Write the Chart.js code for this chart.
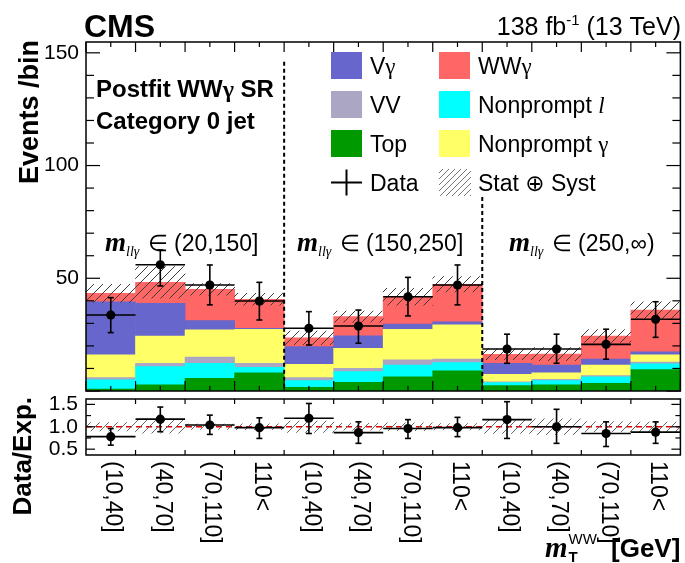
<!DOCTYPE html>
<html>
<head>
<meta charset="utf-8">
<script src="https://cdn.jsdelivr.net/npm/chart.js@4/dist/chart.umd.min.js"></script>
<style>
  html, body { margin: 0; padding: 0; background: #fff; }
  #wrap { position: relative; width: 685px; height: 563px; overflow: hidden; }
  #wrap canvas { position: absolute; left: 0; top: 0; }
</style>
</head>
<body>
<div id="wrap">
  <canvas id="main" width="685" height="563"></canvas>
  <canvas id="ratio" width="685" height="563"></canvas>
</div>
<script>
// ---- bins: three m_llγ regions, four mT(WW) bins each ----
const binLabels = ['(10,40]', '(40,70]', '(70,110]', '110<',
                   '(10,40]', '(40,70]', '(70,110]', '110<',
                   '(10,40]', '(40,70]', '(70,110]', '110<'];
const regionLabels = ['(20,150]', '(150,250]', '(250,\u221E)'];

// ---- postfit yields per bin, stacked bottom to top ----
const topQuark        = [0.8, 2.7, 5.6, 8.1, 1.6, 3.9, 6.3, 9.0, 2.4, 2.7, 3.4, 9.5];
const nonpromptLepton = [4.1, 8.1, 6.7, 2.4, 3.0, 4.7, 5.2, 3.6, 1.3, 1.9, 2.9, 2.5];
const dibosonVV       = [1.0, 1.5, 2.7, 1.8, 1.3, 1.5, 2.3, 1.6, 0.4, 0.6, 0.5, 0.8];
const nonpromptPhoton = [10.1, 12.1, 12.1, 15.1, 5.9, 8.8, 13.6, 15.1, 3.3, 2.9, 4.7, 3.2];
const vGamma          = [23.6, 14.5, 4.1, 0.4, 7.9, 5.6, 2.3, 1.4, 4.9, 3.4, 2.7, 1.4];
const wwGamma         = [3.7, 9.3, 13.9, 12.9, 3.9, 8.5, 12.1, 16.6, 4.0, 4.9, 10.2, 18.5];
// stat ⊕ syst half-width on the total expectation
const totalUnc        = [4.0, 7.0, 2.6, 2.6, 3.0, 2.5, 3.7, 3.4, 2.4, 2.9, 2.8, 3.7];

// ---- observed data with asymmetric error bars ----
const dataCounts = [33.7, 56.0, 47.0, 39.9, 27.8, 28.8, 41.8, 47.0, 18.6, 18.6, 20.7, 31.8];
const dataUp     = [41.4, 62.6, 55.9, 48.2, 35.2, 35.9, 50.4, 55.9, 25.2, 25.2, 27.4, 39.6];
const dataDown   = [25.9, 46.6, 38.2, 31.5, 20.4, 21.2, 33.3, 38.2, 12.3, 12.3, 14.1, 23.8];

// ---- data / expectation ----
const ratioVals = [0.78, 1.17, 1.04, 0.98, 1.19, 0.87, 0.96, 0.98, 1.16, 1.00, 0.85, 0.88];
const ratioUp   = [0.96, 1.44, 1.26, 1.20, 1.52, 1.11, 1.16, 1.21, 1.56, 1.39, 1.11, 1.11];
const ratioDown = [0.59, 0.89, 0.83, 0.74, 0.85, 0.63, 0.74, 0.78, 0.74, 0.63, 0.56, 0.63];

const mainYTicks  = [50, 100, 150];
const ratioYTicks = [0.5, 1.0, 1.5];

// ---- styling ----
const SANS  = '"Liberation Sans", Arial, Helvetica, sans-serif';
const SERIF = '"Liberation Serif", "Times New Roman", serif';
const processes = [
  { label: 'Top',          values: topQuark,        color: '#009900' },
  { label: 'Nonprompt l',  values: nonpromptLepton, color: '#00ffff' },
  { label: 'VV',           values: dibosonVV,       color: '#aaa6c3' },
  { label: 'Nonprompt \u03B3', values: nonpromptPhoton, color: '#ffff66' },
  { label: 'V\u03B3',      values: vGamma,          color: '#6666cc' },
  { label: 'WW\u03B3',     values: wwGamma,         color: '#ff6666' }
];

const totals = binLabels.map((_, i) => processes.reduce((s, p) => s + p.values[i], 0));
const mainBand  = totals.map((t, i) => [t - totalUnc[i], t + totalUnc[i]]);
const ratioBand = totals.map((t, i) => [1 - totalUnc[i] / t, 1 + totalUnc[i] / t]);

function makeHatch(canvas, color, step, width) {
  const c = document.createElement('canvas');
  c.width = step; c.height = step;
  const g = c.getContext('2d');
  g.strokeStyle = color; g.lineWidth = width;
  g.beginPath();
  for (let k = -1; k <= 1; k++) {
    g.moveTo(k * step, step);
    g.lineTo(k * step + step, 0);
  }
  g.stroke();
  return canvas.getContext('2d').createPattern(c, 'repeat');
}

const mainCanvas  = document.getElementById('main');
const ratioCanvas = document.getElementById('ratio');
const hatchMain   = makeHatch(mainCanvas, '#3c3c3c', 9, 1);
const hatchRatio  = makeHatch(ratioCanvas, '#666666', 9, 1);
const hatchLegend = makeHatch(mainCanvas, '#777777', 6, 1);

// draw a run of text pieces with their own fonts and vertical shifts
function richText(ctx, x, y, parts, align) {
  let w = 0;
  parts.forEach(p => { ctx.font = p.f; p.w = ctx.measureText(p.t).width + (p.dx || 0); w += p.w; });
  let cx = align === 'right' ? x - w : (align === 'center' ? x - w / 2 : x);
  ctx.textAlign = 'left';
  parts.forEach(p => {
    ctx.font = p.f;
    ctx.fillText(p.t, cx + (p.dx || 0), y + (p.dy || 0));
    cx += p.w;
  });
  return cx;
}

function seg(ctx, x1, y1, x2, y2) {
  ctx.beginPath(); ctx.moveTo(x1, y1); ctx.lineTo(x2, y2); ctx.stroke();
}

function binGeometry(xs) {
  const w = xs.getPixelForValue(1) - xs.getPixelForValue(0);
  return { w, edge: k => xs.getPixelForValue(0) - w / 2 + k * w };
}

function drawErrorBars(ctx, xs, ys, vals, up, down, cap) {
  const { w } = binGeometry(xs);
  ctx.save();
  ctx.strokeStyle = '#000';
  ctx.lineWidth = 1.6;
  vals.forEach((v, i) => {
    const x = xs.getPixelForValue(i);
    const y = ys.getPixelForValue(v);
    const yu = ys.getPixelForValue(up[i]);
    const yd = ys.getPixelForValue(down[i]);
    seg(ctx, x - w / 2, y, x + w / 2, y);
    seg(ctx, x, yu, x, yd);
    seg(ctx, x - cap, yu, x + cap, yu);
    seg(ctx, x - cap, yd, x + cap, yd);
  });
  ctx.restore();
}

// ---------------- main panel ----------------
const mainPlugin = {
  id: 'mainDecor',
  afterDatasetsDraw(chart) {
    const ctx = chart.ctx, xs = chart.scales.x, ys = chart.scales.y;
    const { edge } = binGeometry(xs);
    const bottom = chart.chartArea.bottom;
    // region separators
    ctx.save();
    ctx.strokeStyle = '#000';
    ctx.lineWidth = 2;
    ctx.setLineDash([4, 3]);
    seg(ctx, edge(4), ys.getPixelForValue(146), edge(4), bottom);
    seg(ctx, edge(8), ys.getPixelForValue(86), edge(8), bottom);
    ctx.restore();
    drawErrorBars(ctx, xs, ys, dataCounts, dataUp, dataDown, 3);
  },
  afterDraw(chart) {
    const ctx = chart.ctx, xs = chart.scales.x, ys = chart.scales.y;
    const a = chart.chartArea;
    const { edge } = binGeometry(xs);
    ctx.save();
    // frame
    ctx.strokeStyle = '#000';
    ctx.lineWidth = 1.5;
    ctx.strokeRect(a.left, a.top, a.right - a.left, a.bottom - a.top);
    // y ticks on both sides
    ctx.lineWidth = 1.2;
    for (let v = 0; v <= 150; v += 10) {
      const y = ys.getPixelForValue(v);
      const len = v % 50 === 0 ? 14 : 8;
      seg(ctx, a.left, y, a.left + len, y);
      seg(ctx, a.right, y, a.right - len, y);
    }
    // x ticks on both sides: long at bin edges, short at bin centres
    for (let k = 0; k <= binLabels.length; k++) {
      const x = edge(k);
      seg(ctx, x, a.top, x, a.top + 10);
      seg(ctx, x, a.bottom, x, a.bottom - 10);
      if (k < binLabels.length) {
        const c = xs.getPixelForValue(k);
        seg(ctx, c, a.top, c, a.top + 5);
        seg(ctx, c, a.bottom, c, a.bottom - 5);
      }
    }

    ctx.fillStyle = '#000';
    ctx.textBaseline = 'alphabetic';
    // header
    richText(ctx, 84, 37, [{ t: 'CMS', f: 'bold 32px ' + SANS }], 'left');
    richText(ctx, 681, 35, [
      { t: '138 fb', f: '25px ' + SANS },
      { t: '-1', f: '15px ' + SANS, dy: -10 },
      { t: ' (13 TeV)', f: '25px ' + SANS }
    ], 'right');

    // category text
    richText(ctx, 96, 97, [
      { t: 'Postfit WW', f: 'bold 24px ' + SANS },
      { t: '\u03B3', f: 'bold 24px ' + SERIF },
      { t: ' SR', f: 'bold 24px ' + SANS }
    ], 'left');
    richText(ctx, 96, 129, [{ t: 'Category 0 jet', f: 'bold 24px ' + SANS }], 'left');

    // region labels
    const regionX = [105, 297, 509];
    regionLabels.forEach((r, i) => {
      richText(ctx, regionX[i], 251, [
        { t: 'm', f: 'bold italic 27px ' + SERIF },
        { t: 'll\u03B3', f: 'italic 14px ' + SERIF, dy: 5 },
        { t: ' \u2208 ' + r, f: '23px ' + SANS, dx: 2 }
      ], 'left');
    });

    // y title
    ctx.save();
    ctx.translate(38, 40);
    ctx.rotate(-Math.PI / 2);
    ctx.textAlign = 'right';
    ctx.font = 'bold 27px ' + SANS;
    ctx.fillText('Events /bin', 0, 0);
    ctx.restore();

    // legend
    const col = [{ box: 331, text: 370 }, { box: 439, text: 478 }];
    const rowC = [65.5, 104.5, 143.5, 182.5];
    const legendItems = [
      { c: 0, r: 0, color: '#6666cc', parts: [{ t: 'V', f: '23px ' + SANS }, { t: '\u03B3', f: '23px ' + SERIF }] },
      { c: 1, r: 0, color: '#ff6666', parts: [{ t: 'WW', f: '23px ' + SANS }, { t: '\u03B3', f: '23px ' + SERIF }] },
      { c: 0, r: 1, color: '#aaa6c3', parts: [{ t: 'VV', f: '23px ' + SANS }] },
      { c: 1, r: 1, color: '#00ffff', parts: [{ t: 'Nonprompt ', f: '23px ' + SANS }, { t: 'l', f: 'italic 23px ' + SERIF }] },
      { c: 0, r: 2, color: '#009900', parts: [{ t: 'Top', f: '23px ' + SANS }] },
      { c: 1, r: 2, color: '#ffff66', parts: [{ t: 'Nonprompt ', f: '23px ' + SANS }, { t: '\u03B3', f: '23px ' + SERIF }] }
    ];
    legendItems.forEach(it => {
      const bx = col[it.c].box, cy = rowC[it.r];
      ctx.fillStyle = it.color;
      ctx.fillRect(bx, cy - 13.5, 31, 27);
      ctx.fillStyle = '#000';
      richText(ctx, col[it.c].text, cy + 8.5, it.parts, 'left');
    });
    // data entry
    ctx.strokeStyle = '#000';
    ctx.lineWidth = 2;
    seg(ctx, col[0].box, rowC[3], col[0].box + 31, rowC[3]);
    seg(ctx, col[0].box + 15.5, rowC[3] - 13, col[0].box + 15.5, rowC[3] + 13);
    ctx.fillStyle = '#000';
    richText(ctx, col[0].text, rowC[3] + 8.5, [{ t: 'Data', f: '23px ' + SANS }], 'left');
    // uncertainty entry
    ctx.fillStyle = hatchLegend;
    ctx.fillRect(col[1].box, rowC[3] - 13.5, 32, 27);
    ctx.fillStyle = '#000';
    richText(ctx, col[1].text, rowC[3] + 8.5, [
      { t: 'Stat ', f: '23px ' + SANS },
      { t: '\u2295', f: '23px "DejaVu Sans", ' + SANS },
      { t: ' Syst', f: '23px ' + SANS }
    ], 'left');
    ctx.restore();
  }
};

const mainChart = new Chart(mainCanvas, {
  type: 'bar',
  data: {
    labels: binLabels,
    datasets: [
      {
        type: 'line', label: 'Data', data: dataCounts, order: 0,
        showLine: false, pointRadius: 4.6, pointBorderWidth: 0,
        pointBackgroundColor: '#000', borderColor: '#000'
      },
      {
        label: 'Stat \u2295 Syst', data: mainBand, order: 1, stack: 'unc', grouped: false,
        backgroundColor: hatchMain, borderWidth: 0, barPercentage: 1, categoryPercentage: 1
      },
      ...processes.map(p => ({
        label: p.label, data: p.values, order: 2, stack: 'mc',
        backgroundColor: p.color, borderWidth: 0, barPercentage: 1, categoryPercentage: 1
      }))
    ]
  },
  options: {
    responsive: false,
    animation: false,
    layout: { padding: { left: 0, right: 1, top: 42, bottom: 172 } },
    plugins: { legend: { display: false }, tooltip: { enabled: false } },
    scales: {
      x: { stacked: true, display: false },
      y: {
        stacked: true, min: 0, max: 154.8,
        afterFit(s) { s.width = 86; },
        afterBuildTicks(s) { s.ticks = mainYTicks.map(v => ({ value: v })); },
        grid: { display: false, drawTicks: false },
        border: { display: false },
        ticks: { color: '#000', padding: 7, autoSkip: false, font: { family: SANS, size: 21 } }
      }
    }
  },
  plugins: [mainPlugin]
});

// ---------------- ratio panel ----------------
const ratioPlugin = {
  id: 'ratioDecor',
  beforeDatasetsDraw(chart) {
    const ctx = chart.ctx, ys = chart.scales.y, a = chart.chartArea;
    const y = ys.getPixelForValue(1);
    ctx.save();
    ctx.strokeStyle = '#e00000';
    ctx.lineWidth = 1.4;
    ctx.setLineDash([6, 4]);
    seg(ctx, a.left, y, a.right, y);
    ctx.restore();
  },
  afterDatasetsDraw(chart) {
    drawErrorBars(chart.ctx, chart.scales.x, chart.scales.y, ratioVals, ratioUp, ratioDown, 3);
  },
  afterDraw(chart) {
    const ctx = chart.ctx, xs = chart.scales.x, ys = chart.scales.y;
    const a = chart.chartArea;
    const { edge } = binGeometry(xs);
    ctx.save();
    ctx.strokeStyle = '#000';
    ctx.lineWidth = 1.5;
    ctx.strokeRect(a.left, a.top, a.right - a.left, a.bottom - a.top);
    ctx.lineWidth = 1.2;
    [0.5, 0.75, 1.0, 1.25, 1.5].forEach(v => {
      const y = ys.getPixelForValue(v);
      const len = (v * 2) % 1 === 0 ? 9 : 5;
      seg(ctx, a.left, y, a.left + len, y);
      seg(ctx, a.right, y, a.right - len, y);
    });
    for (let k = 1; k < binLabels.length; k++) {
      const x = edge(k);
      seg(ctx, x, a.top, x, a.top + 5);
      seg(ctx, x, a.bottom, x, a.bottom - 5);
    }
    // bin labels, rotated clockwise
    ctx.fillStyle = '#000';
    ctx.font = '23px ' + SANS;
    ctx.textAlign = 'left';
    ctx.textBaseline = 'middle';
    binLabels.forEach((t, i) => {
      ctx.save();
      ctx.translate(xs.getPixelForValue(i) + 2, 461);
      ctx.rotate(Math.PI / 2);
      ctx.fillText(t, 0, 0);
      ctx.restore();
    });
    ctx.textBaseline = 'alphabetic';
    // x title
    ctx.font = 'bold italic 29px ' + SERIF;
    ctx.fillText('m', 545, 557);
    const mx = 545 + ctx.measureText('m').width + 1;
    ctx.font = 'bold 15px ' + SANS;
    ctx.fillText('T', mx, 562);
    ctx.font = '15px ' + SANS;
    ctx.fillText('WW', mx, 544);
    ctx.font = 'bold 26px ' + SANS;
    ctx.fillText('[GeV]', 611, 557);
    // y title
    ctx.save();
    ctx.translate(31, 397);
    ctx.rotate(-Math.PI / 2);
    ctx.textAlign = 'right';
    ctx.font = 'bold 26px ' + SANS;
    ctx.fillText('Data/Exp.', 0, 0);
    ctx.restore();
    ctx.restore();
  }
};

const ratioChart = new Chart(ratioCanvas, {
  type: 'bar',
  data: {
    labels: binLabels,
    datasets: [
      {
        type: 'line', label: 'Data/Exp.', data: ratioVals, order: 0,
        showLine: false, pointRadius: 4.6, pointBorderWidth: 0,
        pointBackgroundColor: '#000', borderColor: '#000'
      },
      {
        label: 'Stat \u2295 Syst', data: ratioBand, order: 1,
        backgroundColor: hatchRatio, borderWidth: 0, barPercentage: 1, categoryPercentage: 1
      }
    ]
  },
  options: {
    responsive: false,
    animation: false,
    layout: { padding: { left: 0, right: 1, top: 399, bottom: 108 } },
    plugins: { legend: { display: false }, tooltip: { enabled: false } },
    scales: {
      x: { display: false },
      y: {
        min: 0.37, max: 1.62,
        afterFit(s) { s.width = 86; },
        afterBuildTicks(s) { s.ticks = ratioYTicks.map(v => ({ value: v })); },
        grid: { display: false, drawTicks: false },
        border: { display: false },
        ticks: {
          color: '#000', padding: 8, autoSkip: false, font: { family: SANS, size: 21 },
          callback: v => Number(v).toFixed(1)
        }
      }
    }
  },
  plugins: [ratioPlugin]
});
</script>
</body>
</html>
